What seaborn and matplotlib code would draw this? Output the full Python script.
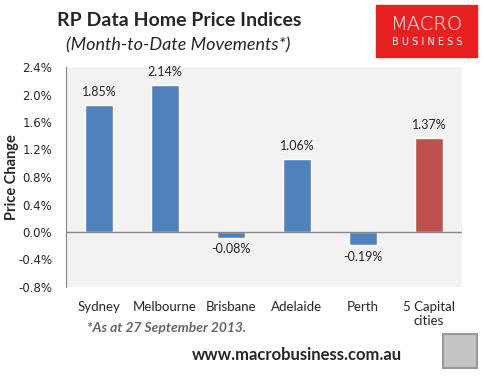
import numpy as np
import pandas as pd
import seaborn as sns
import matplotlib.pyplot as plt
from matplotlib.patches import Rectangle

# Data
cities = ['Sydney', 'Melbourne', 'Brisbane', 'Adelaide', 'Perth', '5 Capital\ncities']
change = [1.85, 2.14, -0.08, 1.06, -0.19, 1.37]
bar_colors = ['#4f81bd', '#4f81bd', '#4f81bd', '#4f81bd', '#4f81bd', '#c0504d']
yticks = [-0.8, -0.4, 0.0, 0.4, 0.8, 1.2, 1.6, 2.0, 2.4]

df = pd.DataFrame({'city': cities, 'change': change})

sns.set_style('white')
plt.rcParams['font.family'] = ['Lato', 'DejaVu Sans']

W, H = 485, 383
fig = plt.figure(figsize=(W / 100, H / 100), dpi=100)
ax = fig.add_axes([66 / W, 1 - 287 / H, (462 - 66) / W, (287 - 67) / H])
ax.set_facecolor('#f2f2f2')

sns.barplot(data=df, x='city', y='change', hue='city', palette=bar_colors,
            width=0.42, legend=False, ax=ax, saturation=1)

ax.set_ylim(-0.8, 2.4)
ax.set_xlim(-0.5, len(cities) - 0.5)
ax.set_yticks(yticks)
ax.set_yticklabels(['%.1f%%' % v for v in yticks], family='DejaVu Sans', fontsize=8.5)
ax.tick_params(axis='y', length=4, color='#868686', pad=6)
ax.tick_params(axis='x', length=0, pad=10, labelsize=9.5)
ax.set_xlabel('')
ax.set_ylabel('Price Change', fontsize=10.5, fontweight='bold')
ax.yaxis.set_label_coords(-0.118, 0.5)

for s in ['top', 'right', 'bottom']:
    ax.spines[s].set_visible(False)
ax.spines['left'].set_color('#868686')
ax.axhline(0, color='#868686', lw=1)

for i, v in enumerate(change):
    if v >= 0:
        ax.text(i, v + 0.1, '%.2f%%' % v, ha='center', va='bottom', fontsize=9)
    else:
        ax.text(i, v - 0.08, '%.2f%%' % v, ha='center', va='top', fontsize=9)

# Titles
fig.text(179 / W, 1 - 21 / H, 'RP Data Home Price Indices', ha='center', va='center',
         fontsize=14, fontweight='bold')
fig.text(178 / W, 1 - 45 / H, '(Month-to-Date Movements*)', ha='center', va='center',
         fontsize=13, style='italic')

# Logo
fig.patches.append(Rectangle((376 / W, 1 - 57 / H), 101 / W, 52 / H,
                             transform=fig.transFigure, color='#e8201f'))
fig.text(427 / W, 1 - 24 / H, 'MACRO', ha='center', va='center', color='white',
         fontsize=14, family='DejaVu Sans', fontweight='light')
fig.text(427 / W, 1 - 42 / H, 'B U S I N E S S', ha='center', va='center', color='white',
         fontsize=7, family='DejaVu Sans')

# Footnotes
fig.text(87 / W, 1 - 328 / H, '*As at 27 September 2013.', ha='left', va='center',
         fontsize=10, fontweight='bold', style='italic', color='#666666')
fig.text(297 / W, 1 - 355 / H, 'www.macrobusiness.com.au', ha='center', va='center',
         fontsize=12, fontweight='bold')

# fox badge
fig.patches.append(Rectangle((443 / W, 1 - 368 / H), 34 / W, 34 / H,
                             transform=fig.transFigure, facecolor='#c4c4c4',
                             edgecolor='#999999', lw=1.5))

fig.savefig('out.png', dpi=100)
